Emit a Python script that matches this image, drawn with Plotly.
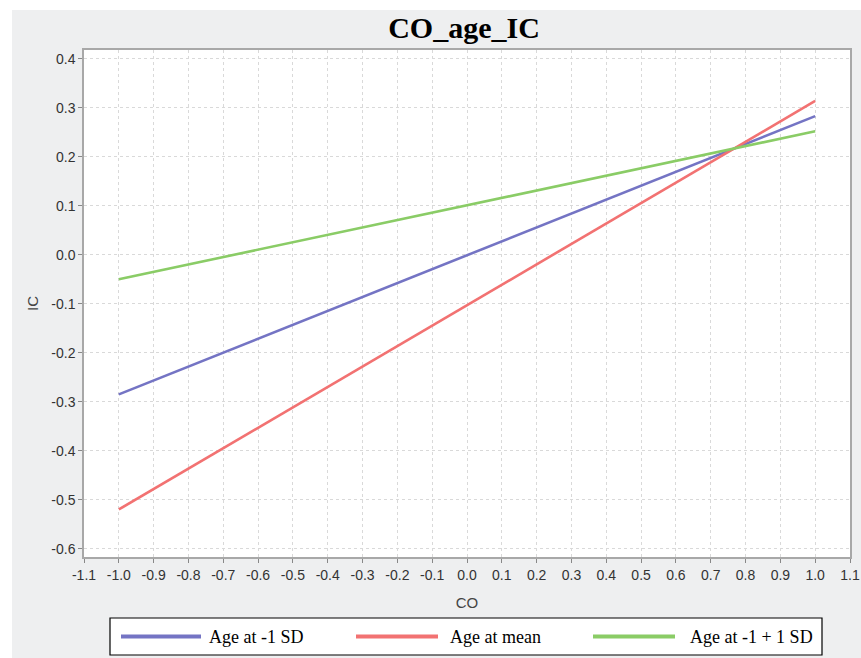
import plotly.graph_objects as go

# Data
co_values = [-1.0, 1.0]
ic_age_minus1sd = [-0.285, 0.283]
ic_age_mean = [-0.520, 0.314]
ic_age_plus1sd = [-0.050, 0.252]

series_names = ["Age at -1 SD", "Age at mean", "Age at -1 + 1 SD"]
series_colors = ["#7474c4", "#f27272", "#8acc66"]

x_tick_vals = [round(-1.1 + 0.1 * i, 1) for i in range(23)]
x_tick_text = [f"{v:.1f}" for v in x_tick_vals]
y_tick_vals = [round(-0.6 + 0.1 * i, 1) for i in range(11)]
y_tick_text = [f"{v:.1f}" for v in y_tick_vals]

W, H = 861, 658
L, R, T, B = 84, 11, 50, 101
pw, ph = W - L - R, H - T - B


def px_x(p):
    return (p - L) / pw


def px_y(p):
    return (H - B - p) / ph


fig = go.Figure()
for name, ys, col in zip(series_names, [ic_age_minus1sd, ic_age_mean, ic_age_plus1sd], series_colors):
    fig.add_trace(go.Scatter(x=co_values, y=ys, mode="lines", name=name,
                             line=dict(color=col, width=2.6), showlegend=False))

tickfont = dict(family="Liberation Sans, Arial, sans-serif", size=14, color="#333333")
axis_common = dict(showline=True, mirror=True, linecolor="#a8a8a8", linewidth=1.5,
                   ticks="outside", ticklen=4, tickcolor="#888888",
                   showgrid=True, gridcolor="#d9d9d9", griddash="dot", gridwidth=1,
                   zeroline=False, tickfont=tickfont)

fig.update_xaxes(range=[-1.1, 1.1], tickvals=x_tick_vals, ticktext=x_tick_text,
                 title=dict(text="CO", font=dict(family="Liberation Sans, Arial, sans-serif", size=15, color="#444444"), standoff=16),
                 **axis_common)
fig.update_yaxes(range=[-0.617, 0.418], tickvals=y_tick_vals, ticktext=y_tick_text,
                 title=dict(text="IC", font=dict(family="Liberation Sans, Arial, sans-serif", size=15, color="#444444"), standoff=9),
                 **axis_common)

# Legend drawn as a box with line samples and labels (long line samples as in the original)
legend_y = px_y(636.5)
legend_line_x = [(121, 201), (356, 438), (593, 675)]
legend_text_x = [207, 448, 688]

shapes = [
    dict(type="rect", xref="paper", yref="paper", x0=px_x(0), x1=px_x(W), y0=px_y(10), y1=px_y(0),
         fillcolor="white", line=dict(width=0), layer="below"),
    dict(type="rect", xref="paper", yref="paper", x0=px_x(0), x1=px_x(12), y0=px_y(H), y1=px_y(0),
         fillcolor="white", line=dict(width=0), layer="below"),
    dict(type="rect", xref="paper", yref="paper", x0=px_x(110), x1=px_x(822), y0=px_y(655), y1=px_y(618),
         fillcolor="white", line=dict(color="black", width=1.2), layer="above"),
]
annotations = []
for name, col, (x0, x1), tx in zip(series_names, series_colors, legend_line_x, legend_text_x):
    shapes.append(dict(type="line", xref="paper", yref="paper", x0=px_x(x0), x1=px_x(x1),
                       y0=legend_y, y1=legend_y, line=dict(color=col, width=4), layer="above"))
    annotations.append(dict(text=name, xref="paper", yref="paper", x=px_x(tx), y=legend_y,
                            xanchor="left", yanchor="middle", showarrow=False,
                            font=dict(family="Liberation Serif, Times New Roman, serif", size=18, color="black")))

fig.update_layout(
    width=W, height=H,
    margin=dict(l=L, r=R, t=T, b=B, autoexpand=False),
    paper_bgcolor="#eeeff0",
    plot_bgcolor="white",
    showlegend=False,
    title=dict(text="<b>CO_age_IC</b>", x=464 / W, xanchor="center", y=1 - 27 / H, yanchor="middle",
               font=dict(family="Liberation Serif, Times New Roman, serif", size=30, color="black")),
    shapes=shapes,
    annotations=annotations,
)

fig.write_html("out.html", config={"displayModeBar": False},
               post_script="document.body.style.margin='0px';")
